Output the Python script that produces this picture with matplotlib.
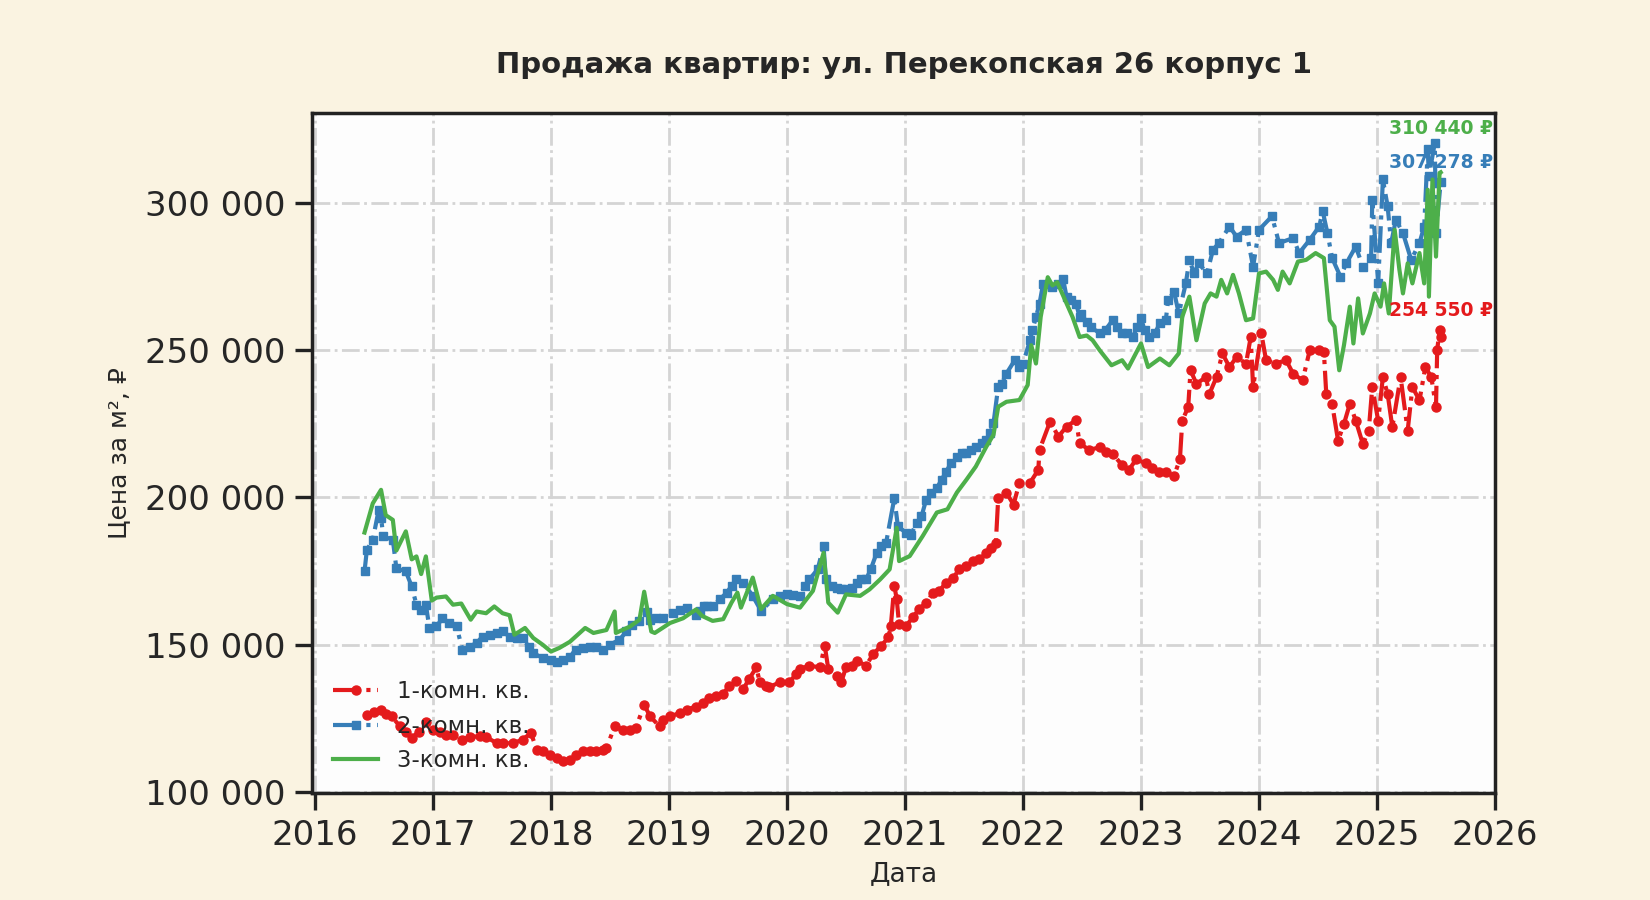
import numpy as np
import matplotlib
matplotlib.use("Agg")
import matplotlib.pyplot as plt
from matplotlib.ticker import FuncFormatter, FixedLocator
from matplotlib.transforms import blended_transform_factory

plt.rcParams['font.family'] = ['DejaVu Sans']

# ---------------- data (decimal year, price in thousands of rubles) ----------------
t1 = [2016.44, 2016.50, 2016.56, 2016.65, 2016.72, 2016.82, 2016.88, 2016.94, 2017.00, 2017.11,
      2017.25, 2017.40, 2017.54, 2017.68, 2017.76, 2017.83, 2017.88, 2017.99, 2018.10, 2018.16,
      2018.27, 2018.38, 2018.47, 2018.54, 2018.67, 2018.79, 2018.84, 2018.92, 2019.01, 2019.15,
      2019.23, 2019.34, 2019.46, 2019.57, 2019.63, 2019.74, 2019.77, 2019.85, 2019.94, 2020.02,
      2020.11, 2020.19, 2020.28, 2020.32, 2020.35, 2020.42, 2020.46, 2020.50, 2020.59, 2020.67,
      2020.73, 2020.80, 2020.86, 2020.88, 2020.91, 2020.93, 2020.95, 2021.01, 2021.12, 2021.24,
      2021.35, 2021.46, 2021.58, 2021.69, 2021.77, 2021.79, 2021.86, 2021.92, 2021.97, 2022.06,
      2022.13, 2022.14, 2022.23, 2022.30, 2022.37, 2022.45, 2022.48, 2022.56, 2022.65, 2022.76,
      2022.84, 2022.96, 2023.04, 2023.15, 2023.28, 2023.33, 2023.35, 2023.40, 2023.42, 2023.47,
      2023.55, 2023.58, 2023.64, 2023.69, 2023.75, 2023.81, 2023.89, 2023.93, 2023.95, 2024.02,
      2024.06, 2024.14, 2024.23, 2024.29, 2024.37, 2024.43, 2024.51, 2024.55, 2024.57, 2024.62,
      2024.67, 2024.72, 2024.77, 2024.82, 2024.88, 2024.93, 2024.96, 2025.01, 2025.05, 2025.09,
      2025.13, 2025.20, 2025.26, 2025.30, 2025.36, 2025.41, 2025.46, 2025.50, 2025.51, 2025.53,
      2025.54]
p1 = [126.2, 127.0, 128.0, 125.7, 122.3, 118.3, 120.5, 123.9, 121.2, 119.5,
      117.8, 118.9, 116.6, 116.6, 117.8, 120.0, 114.4, 112.7, 110.4, 111.0,
      113.8, 113.8, 114.9, 122.3, 121.2, 129.6, 125.7, 122.3, 125.7, 128.0,
      129.0, 132.0, 133.3, 137.8, 135.0, 142.3, 137.3, 135.6, 137.3, 137.3,
      141.8, 142.9, 142.3, 149.7, 141.8, 139.5, 137.3, 142.3, 144.6, 142.9,
      146.8, 149.7, 152.5, 156.4, 170.0, 165.5, 157.0, 156.4, 162.1, 167.7,
      171.1, 175.6, 178.4, 181.2, 184.6, 199.8, 201.6, 197.6, 205.0, 205.0,
      209.4, 216.2, 225.8, 220.7, 224.1, 226.3, 218.4, 216.2, 217.0, 214.8,
      211.0, 213.0, 211.6, 208.8, 207.3, 213.0, 226.1, 230.7, 243.2, 238.6,
      240.9, 235.2, 240.9, 248.9, 244.3, 247.7, 245.5, 254.5, 237.5, 255.7,
      246.6, 245.5, 246.6, 242.0, 239.8, 250.0, 250.0, 249.4, 235.2, 231.8,
      219.3, 225.0, 231.8, 226.1, 218.2, 222.7, 237.5, 226.1, 240.9, 235.2,
      223.9, 240.9, 222.7, 237.5, 233.0, 244.3, 240.9, 230.7, 250.0, 256.8,
      254.55]
# additional readings of the 1-room series
t1_more = [2016.60, 2016.77, 2017.06, 2017.17, 2017.31, 2017.45, 2017.59, 2017.93, 2018.05, 2018.21,
           2018.33, 2018.44, 2018.61, 2018.72, 2018.95, 2019.09, 2019.29, 2019.40, 2019.51, 2019.68,
           2019.82, 2020.08, 2020.55, 2021.07, 2021.18, 2021.29, 2021.41, 2021.52, 2021.63, 2021.73,
           2022.70, 2022.90, 2023.09, 2023.21]
p1_more = [126.6, 120.5, 120.4, 119.2, 118.7, 118.7, 116.6, 113.8, 111.5, 112.7,
           113.8, 114.4, 121.2, 121.8, 124.6, 126.8, 130.2, 132.7, 136.1, 138.4,
           136.1, 140.1, 142.9, 159.5, 164.3, 168.3, 172.8, 176.7, 179.0, 182.9,
           215.5, 209.5, 210.0, 208.5]

t2 = [2016.42, 2016.44, 2016.49, 2016.54, 2016.56, 2016.58, 2016.66, 2016.69, 2016.77, 2016.82,
      2016.86, 2016.90, 2016.94, 2016.97, 2017.08, 2017.20, 2017.25, 2017.31, 2017.42, 2017.54,
      2017.65, 2017.76, 2017.85, 2017.93, 2018.00, 2018.10, 2018.21, 2018.33, 2018.44, 2018.58,
      2018.69, 2018.81, 2018.84, 2018.95, 2019.03, 2019.15, 2019.23, 2019.30, 2019.37, 2019.49,
      2019.57, 2019.63, 2019.71, 2019.78, 2019.88, 2020.00, 2020.11, 2020.19, 2020.26, 2020.31,
      2020.33, 2020.42, 2020.50, 2020.59, 2020.67, 2020.76, 2020.84, 2020.91, 2020.94, 2021.01,
      2021.10, 2021.18, 2021.27, 2021.35, 2021.44, 2021.52, 2021.60, 2021.69, 2021.75, 2021.79,
      2021.86, 2021.93, 2022.00, 2022.06, 2022.11, 2022.17, 2022.25, 2022.34, 2022.37, 2022.45,
      2022.48, 2022.54, 2022.65, 2022.76, 2022.84, 2022.93, 2023.00, 2023.07, 2023.16, 2023.21,
      2023.23, 2023.28, 2023.32, 2023.38, 2023.41, 2023.45, 2023.49, 2023.56, 2023.61, 2023.66,
      2023.75, 2023.81, 2023.89, 2023.95, 2024.00, 2024.11, 2024.17, 2024.29, 2024.34, 2024.43,
      2024.51, 2024.54, 2024.58, 2024.62, 2024.69, 2024.74, 2024.82, 2024.88, 2024.95, 2024.96,
      2025.01, 2025.05, 2025.09, 2025.12, 2025.16, 2025.22, 2025.29, 2025.36, 2025.40, 2025.43,
      2025.44, 2025.49, 2025.50, 2025.54]
p2 = [174.9, 182.2, 185.6, 195.8, 193.0, 186.8, 185.6, 176.0, 174.9, 169.8,
      163.6, 161.9, 163.6, 155.7, 159.0, 156.2, 148.3, 149.4, 152.8, 154.0,
      152.8, 152.3, 147.2, 145.5, 144.9, 144.9, 148.3, 149.4, 148.3, 151.7,
      156.8, 161.0, 158.5, 159.0, 160.7, 162.4, 160.2, 163.0, 163.2, 167.7,
      172.2, 171.0, 166.6, 161.5, 165.4, 167.1, 166.6, 172.2, 175.6, 183.5,
      172.2, 169.4, 168.8, 171.0, 172.2, 181.2, 184.6, 199.8, 190.2, 188.0,
      191.4, 199.3, 203.2, 208.8, 213.9, 215.0, 217.3, 219.6, 225.2, 237.6,
      242.1, 246.6, 245.5, 253.4, 261.3, 272.5, 271.4, 274.2, 268.0, 265.8,
      261.4, 259.6, 255.7, 260.2, 255.7, 254.5, 260.8, 254.5, 259.1, 260.2,
      267.0, 269.9, 262.5, 272.7, 280.7, 276.1, 279.5, 276.1, 284.1, 286.4,
      292.0, 288.6, 290.9, 278.4, 290.9, 295.5, 286.4, 288.1, 283.0, 287.5,
      292.0, 297.2, 289.8, 281.3, 275.0, 279.5, 285.2, 278.4, 281.3, 301.1,
      272.7, 308.0, 298.9, 286.4, 294.3, 289.8, 280.7, 286.4, 292.0, 318.2,
      309.1, 320.5, 289.8, 307.278]
# additional readings of the 2-room series
t2_more = [2017.03, 2017.14, 2017.37, 2017.48, 2017.59, 2017.71, 2017.81, 2018.05, 2018.16, 2018.27,
           2018.38, 2018.50, 2018.64, 2018.75, 2018.89, 2019.09, 2019.26, 2019.32, 2019.43, 2019.53,
           2019.94, 2020.05, 2020.15, 2020.38, 2020.46, 2020.55, 2020.63, 2020.71, 2020.80, 2021.05,
           2021.14, 2021.22, 2021.31, 2021.39, 2021.48, 2021.56, 2021.65, 2021.72, 2021.82, 2021.97,
           2022.08, 2022.14, 2022.30, 2022.41, 2022.49, 2022.58, 2022.70, 2022.80, 2022.88, 2022.97,
           2023.03, 2023.12]
p2_more = [156.2, 157.4, 150.6, 153.4, 154.5, 152.3, 149.4, 144.3, 146.0, 148.9,
           149.4, 150.0, 154.5, 157.9, 159.0, 161.9, 161.3, 163.2, 165.4, 170.0,
           166.6, 167.0, 170.0, 170.0, 168.8, 169.4, 172.2, 175.6, 183.5, 187.4,
           193.6, 201.6, 206.0, 211.7, 215.0, 216.2, 218.4, 221.8, 238.7, 244.4,
           256.8, 265.8, 272.5, 266.9, 262.4, 257.9, 257.0, 258.0, 256.0, 258.0,
           257.0, 256.0]

t3 = [2016.42, 2016.49, 2016.56, 2016.60, 2016.66, 2016.69, 2016.77, 2016.82, 2016.86, 2016.90,
      2016.94, 2016.99, 2017.03, 2017.11, 2017.17, 2017.24, 2017.32, 2017.37, 2017.45, 2017.52,
      2017.59, 2017.65, 2017.69, 2017.78, 2017.85, 2017.93, 2018.00, 2018.07, 2018.16, 2018.29,
      2018.36, 2018.47, 2018.54, 2018.55, 2018.67, 2018.75, 2018.79, 2018.85, 2018.88, 2019.01,
      2019.12, 2019.23, 2019.28, 2019.37, 2019.46, 2019.53, 2019.58, 2019.61, 2019.71, 2019.78,
      2019.88, 2020.00, 2020.11, 2020.22, 2020.31, 2020.35, 2020.43, 2020.50, 2020.62, 2020.70,
      2020.79, 2020.87, 2020.93, 2020.95, 2021.04, 2021.15, 2021.27, 2021.36, 2021.44, 2021.52,
      2021.60, 2021.69, 2021.75, 2021.79, 2021.86, 2021.97, 2022.04, 2022.07, 2022.11, 2022.15,
      2022.21, 2022.25, 2022.29, 2022.37, 2022.42, 2022.48, 2022.54, 2022.59, 2022.65, 2022.75,
      2022.84, 2022.89, 2023.00, 2023.06, 2023.16, 2023.24, 2023.32, 2023.35, 2023.41, 2023.47,
      2023.54, 2023.59, 2023.64, 2023.68, 2023.73, 2023.78, 2023.83, 2023.89, 2023.95, 2024.00,
      2024.06, 2024.12, 2024.16, 2024.20, 2024.26, 2024.33, 2024.40, 2024.48, 2024.55, 2024.60,
      2024.64, 2024.68, 2024.72, 2024.77, 2024.80, 2024.84, 2024.88, 2024.94, 2024.98, 2025.03,
      2025.06, 2025.10, 2025.15, 2025.19, 2025.22, 2025.26, 2025.30, 2025.36, 2025.40, 2025.43,
      2025.44, 2025.47, 2025.50, 2025.53, 2025.54]
p3 = [188.1, 198.0, 202.6, 194.0, 192.4, 182.0, 188.5, 179.0, 180.0, 174.0,
      180.0, 165.0, 166.0, 166.4, 163.6, 164.0, 158.5, 161.3, 160.7, 163.0,
      160.7, 160.0, 153.4, 155.7, 152.3, 150.0, 147.7, 148.9, 151.0, 155.7,
      154.0, 155.0, 161.3, 154.0, 156.2, 158.5, 168.0, 154.5, 154.0, 157.4,
      159.0, 162.0, 159.8, 158.1, 158.7, 164.3, 167.7, 162.6, 172.8, 162.1,
      166.6, 163.8, 162.6, 168.3, 181.2, 164.3, 160.9, 167.1, 166.6, 168.8,
      172.2, 175.6, 189.7, 178.4, 180.1, 186.9, 194.9, 196.0, 201.7, 206.0,
      210.5, 217.3, 221.3, 230.8, 232.5, 233.1, 238.2, 251.7, 245.5, 261.3,
      274.8, 272.0, 273.1, 265.8, 261.3, 254.5, 255.0, 253.4, 250.0, 244.9,
      246.6, 243.8, 252.3, 244.3, 247.2, 244.9, 248.9, 261.4, 268.2, 253.4,
      265.9, 269.3, 268.2, 273.9, 269.3, 275.6, 269.3, 260.2, 260.8, 276.1,
      276.7, 273.9, 270.5, 276.7, 272.7, 280.1, 280.7, 283.0, 281.3, 260.2,
      258.0, 243.2, 251.7, 264.8, 252.3, 267.6, 255.7, 262.5, 269.3, 264.8,
      272.7, 262.5, 290.9, 277.3, 269.3, 279.5, 272.7, 283.0, 272.7, 304.5,
      268.2, 308.0, 281.8, 310.2, 310.44]

series_labels = ["1-комн. кв.", "2-комн. кв.", "3-комн. кв."]
series_colors = ["#e41a1c", "#377eb8", "#4daf4a"]
last_value_text = ["254 550 ₽", "307 278 ₽", "310 440 ₽"]
last_label_y = [263.5, 313.6, 325.4]  # thousands, label anchor heights
year_ticks = list(range(2016, 2027))
price_ticks = [100000, 150000, 200000, 250000, 300000]

title = "Продажа квартир: ул. Перекопская 26 корпус 1"


def merged(ta, pa, tb=(), pb=()):
    t = np.concatenate([np.asarray(ta, float), np.asarray(tb, float)])
    p = np.concatenate([np.asarray(pa, float), np.asarray(pb, float)])
    order = np.argsort(t, kind='stable')
    return t[order], p[order]


# ---------------- figure ----------------
bg = "#faf3e1"
fig = plt.figure(figsize=(16.5, 9), dpi=100, facecolor=bg)
ax = fig.add_axes([312/1650, 1-793/900, (1495-312)/1650, (793-113)/900])
ax.set_facecolor("#fdfdfd")
ax.set_axisbelow(True)

series = [merged(t1, p1, t1_more, p1_more),
          merged(t2, p2, t2_more, p2_more),
          merged(t3, p3)]
styles = [dict(linestyle='-.', marker='o', markersize=6.5, linewidth=3.0),
          dict(linestyle='-.', marker='s', markersize=6.0, linewidth=3.0),
          dict(linestyle='-', marker=None, linewidth=3.0)]
for (t, p), lab, c, st in zip(series, series_labels, series_colors, styles):
    ax.plot(t, p * 1000, color=c, label=lab, **st)

trans = blended_transform_factory(ax.transAxes, ax.transData)
for txt, y, c in zip(last_value_text, last_label_y, series_colors):
    ax.text(0.998, y * 1000, txt, transform=trans, ha='right', va='center',
            color=c, fontsize=13.5, fontweight='bold')

ax.set_xlim(2015.975, 2026.0)
ax.set_ylim(99660, 330560)
ax.xaxis.set_major_locator(FixedLocator(year_ticks))
ax.xaxis.set_major_formatter(FuncFormatter(lambda v, pos: f"{int(round(v))}"))
ax.yaxis.set_major_locator(FixedLocator(price_ticks))
ax.yaxis.set_major_formatter(FuncFormatter(lambda v, pos: f"{v:,.0f}".replace(",", " ")))

ax.grid(True, linestyle='-.', color='#d4d4d4', linewidth=2.0)
for s in ax.spines.values():
    s.set_linewidth(2.5)
    s.set_color('#222222')
ax.tick_params(axis='both', which='major', length=12, width=2.4, color='#222222',
               labelsize=24.5, labelcolor='#262626', pad=7)

ax.set_xlabel("Дата", fontsize=19, color='#262626', labelpad=6)
ax.set_ylabel("Цена за м², ₽", fontsize=18, color='#262626', labelpad=10)
ax.set_title(title, fontsize=21, fontweight='bold', color='#262626', pad=29)

leg = ax.legend(loc='lower left', frameon=False, fontsize=16.5)
for txt in leg.get_texts():
    txt.set_color('#262626')

fig.savefig("out.png", dpi=100, facecolor=bg)
